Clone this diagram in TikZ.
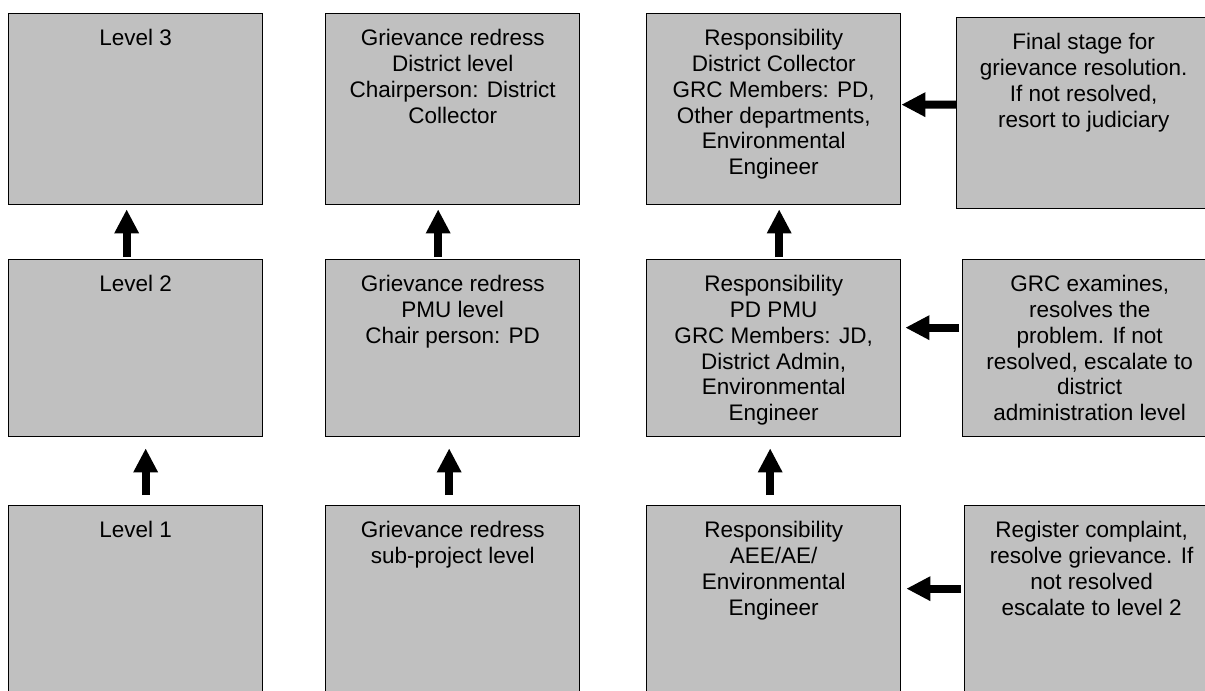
\documentclass[tikz,border=0pt]{standalone}
\usepackage{fontspec}
\setmainfont{Liberation Sans}
\usepackage{tikz}
\usetikzlibrary{arrows.meta,positioning}
\definecolor{boxgray}{RGB}{192,192,192}

\begin{document}
\begin{tikzpicture}[x=0.025cm,y=-0.025cm,
  box/.style={rectangle,draw=black,fill=boxgray,line width=0.9pt,anchor=north west,
    inner sep=0pt,minimum width=6.35cm},
  top row/.style={box,minimum height=4.775cm},
  mid row/.style={box,minimum height=4.425cm},
  low row/.style={box,minimum height=4.875cm},
  txt/.style={align=center,inner sep=0pt,font=\fontsize{16}{18.35}\selectfont},
  fat arrow/.style={-{Triangle[length=0.6cm,width=0.575cm]},line width=0.2cm}]
  \clip (0,0) rectangle (1205,691);
  \fill[white] (0,0) rectangle (1205,691);

  \node[top row] (lev3)  at (8,13)   {};
  \node[top row] (red3)  at (325,13) {};
  \node[top row] (resp3) at (646,13) {};
  \node[top row] (act3)  at (956,17) {};
  \node[mid row] (lev2)  at (8,259)   {};
  \node[mid row] (red2)  at (325,259) {};
  \node[mid row] (resp2) at (646,259) {};
  \node[mid row] (act2)  at (962,259) {};
  \node[low row] (lev1)  at (8,505)   {};
  \node[low row] (red1)  at (325,505) {};
  \node[low row] (resp1) at (646,505) {};
  \node[low row] (act1)  at (964,505) {};

  \node[txt,below=0.4cm of lev3.north]  (lev3t)  {Level 3};
  \node[txt,below=0.4cm of red3.north]  (red3t)  {Grievance redress\\District level\\Chairperson: District\\Collector};
  \node[txt,below=0.4cm of resp3.north] (resp3t) {Responsibility\\District Collector\\GRC Members: PD,\\Other departments,\\Environmental\\Engineer};
  \node[txt,below=0.4cm of act3.north]  (act3t)  {Final stage for\\grievance resolution.\\If not resolved,\\resort to judiciary};
  \node[txt,below=0.4cm of lev2.north]  (lev2t)  {Level 2};
  \node[txt,below=0.4cm of red2.north]  (red2t)  {Grievance redress\\PMU level\\Chair person: PD};
  \node[txt,below=0.4cm of resp2.north] (resp2t) {Responsibility\\PD PMU\\GRC Members: JD,\\District Admin,\\Environmental\\Engineer};
  \node[txt,below=0.4cm of act2.north]  (act2t)  {GRC examines,\\resolves the\\problem. If not\\resolved, escalate to\\district\\administration level};
  \node[txt,below=0.4cm of lev1.north]  (lev1t)  {Level 1};
  \node[txt,below=0.4cm of red1.north]  (red1t)  {Grievance redress\\sub-project level};
  \node[txt,below=0.4cm of resp1.north] (resp1t) {Responsibility\\AEE/AE/\\Environmental\\Engineer};
  \node[txt,below=0.4cm of act1.north]  (act1t)  {Register complaint,\\resolve grievance. If\\not resolved\\escalate to level 2};

  \draw[fat arrow,shorten <=0.05cm,shorten >=0.1cm]
    ([xshift=-0.225cm]lev2.north) -- ([xshift=-0.225cm]lev3.south);
  \draw[fat arrow,shorten <=0.25cm,shorten >=0.275cm]
    ([xshift=0.25cm]lev1.north) -- ([xshift=0.25cm]lev2.south);
  \draw[fat arrow,shorten <=0.05cm,shorten >=0.1cm]
    ([xshift=-0.3625cm]red2.north) -- ([xshift=-0.3625cm]red3.south);
  \draw[fat arrow,shorten <=0.25cm,shorten >=0.275cm]
    ([xshift=-0.0875cm]red1.north) -- ([xshift=-0.0875cm]red2.south);
  \draw[fat arrow,shorten <=0.05cm,shorten >=0.1cm]
    ([xshift=0.1375cm]resp2.north) -- ([xshift=0.1375cm]resp3.south);
  \draw[fat arrow,shorten <=0.25cm,shorten >=0.275cm]
    ([xshift=-0.0875cm]resp1.north) -- ([xshift=-0.0875cm]resp2.south);

  \draw[fat arrow]
    ([yshift=0.2125cm]act3.west) -- ([yshift=0.1125cm]resp3.east);
  \draw[fat arrow,shorten <=0.075cm,shorten >=0.1cm]
    ([yshift=0.5125cm]act2.west) -- ([yshift=0.5125cm]resp2.east);
  \draw[fat arrow,shorten <=0.075cm,shorten >=0.125cm]
    ([yshift=0.3625cm]act1.west) -- ([yshift=0.3625cm]resp1.east);
\end{tikzpicture}
\end{document}
